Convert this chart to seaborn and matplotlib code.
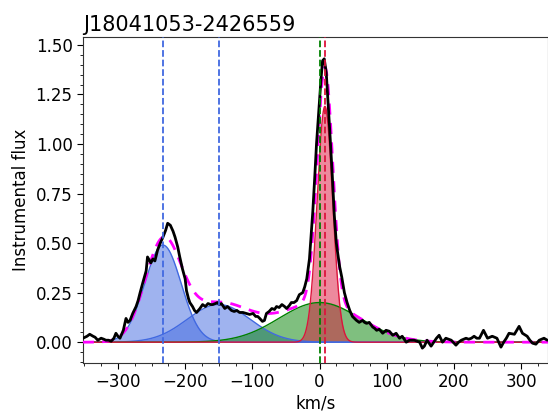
import numpy as np
import pandas as pd
import matplotlib
matplotlib.use("Agg")
import matplotlib.pyplot as plt
from matplotlib.ticker import MultipleLocator
import seaborn as sns

TITLE = "J18041053-2426559"

VELOCITY = [-352, -346, -342, -337, -334, -330, -325, -321, -318, -314, -310, -306, -303, -300,
            -297, -292, -288, -285, -282, -278, -273, -270, -267, -263, -258, -256, -251, -248,
            -245, -241, -237, -233, -229, -226, -222, -218, -215, -211, -208, -204, -200, -198,
            -195, -193, -189, -186, -183, -178, -174, -170, -166, -162, -159, -155, -152, -149,
            -146, -141, -137, -134, -131, -127, -123, -119, -114, -109, -104, -99, -95, -92,
            -89, -85, -82, -79, -75, -71, -67, -64, -60, -56, -52, -49, -45, -42, -38, -34,
            -30, -25, -22, -19, -15, -10, -7, -4.5, -2, 0, 2, 4.5, 7, 10, 12, 15, 19, 22, 25,
            27, 30, 33, 37, 41, 45, 49, 52, 55, 59, 64, 67, 70, 74, 79, 82, 85, 89, 94, 99,
            104, 109, 114, 119, 123, 129, 134, 141, 145, 149, 153, 156, 160, 166, 170, 174,
            178, 183, 188, 192, 196, 203, 207, 211, 218, 222, 226, 230, 234, 238, 244, 250,
            257, 264, 270, 274, 278, 282, 290, 297, 302, 309, 313, 317, 322, 327, 334, 339]
FLUX = [0.02, 0.03, 0.04, 0.03, 0.025, 0.01, 0.02, 0.015, 0.01, 0.01, 0.005, 0.02, 0.045, 0.03,
        0.02, 0.06, 0.12, 0.10, 0.11, 0.145, 0.18, 0.21, 0.25, 0.30, 0.36, 0.43, 0.40, 0.42,
        0.41, 0.465, 0.50, 0.53, 0.565, 0.60, 0.59, 0.56, 0.53, 0.48, 0.43, 0.37, 0.32, 0.26,
        0.22, 0.20, 0.18, 0.16, 0.15, 0.17, 0.19, 0.18, 0.195, 0.19, 0.19, 0.195, 0.20, 0.19,
        0.195, 0.17, 0.18, 0.17, 0.16, 0.155, 0.16, 0.15, 0.15, 0.145, 0.14, 0.145, 0.13, 0.13,
        0.12, 0.105, 0.11, 0.145, 0.155, 0.17, 0.165, 0.18, 0.175, 0.19, 0.18, 0.17, 0.185, 0.20, 0.20, 0.21,
        0.24, 0.25, 0.28, 0.32, 0.42, 0.66, 0.84, 1.00, 1.12, 1.22, 1.32, 1.42, 1.43, 1.36, 1.25, 1.08, 0.84, 0.64, 0.50,
        0.45, 0.38, 0.33, 0.25, 0.20, 0.16, 0.13, 0.12, 0.11, 0.10, 0.11, 0.10, 0.095, 0.10, 0.077, 0.07, 0.06, 0.065, 0.045, 0.06,
        0.055, 0.035, 0.045, 0.02, 0.03, 0.0, 0.01, 0.01, 0.005, 0.0, -0.03, -0.02, 0.01, -0.02, 0.0, 0.02,
        0.035, 0.0, 0.02, 0.015, 0.01, -0.015, 0.0, 0.01, 0.02, 0.015, 0.02, 0.03, 0.02, 0.02, 0.06, 0.02,
        0.03, 0.02, -0.025, 0.0, 0.02, 0.045, 0.04, 0.08, 0.045, 0.03, 0.01, -0.005, -0.01, 0.01, 0.02, 0.01]

# Gaussian components
COMP_AMPLITUDE = [0.49, 0.19, 0.20, 1.19]
COMP_CENTER = [-233, -150, 0, 8]
COMP_SIGMA = [27, 47, 60, 11.5]
COMP_COLOR = ["royalblue", "royalblue", "green", "crimson"]

XLIM = (-352, 340)
YLIM = (-0.105, 1.54)

sns.set_style("ticks", {"axes.edgecolor": "black", "text.color": "black",
                        "xtick.color": "black", "ytick.color": "black",
                        "axes.labelcolor": "black"})
plt.rcParams["font.family"] = ["DejaVu Sans"]

fig = plt.figure(figsize=(5.48, 4.11), dpi=100)
ax = fig.add_axes([83 / 548, 48 / 411, 1 - 83 / 548, (363 - 37) / 411])

grid = np.linspace(XLIM[0] - 10, XLIM[1] + 10, 1400)
total = np.zeros_like(grid)
for a, c, s, col in zip(COMP_AMPLITUDE, COMP_CENTER, COMP_SIGMA, COMP_COLOR):
    g = a * np.exp(-(grid - c) ** 2 / (2 * s ** 2))
    total += g
    ax.fill_between(grid, 0, g, color=col, alpha=0.5, linewidth=0)
    ax.plot(grid, g, color=col, lw=1.0)

df = pd.DataFrame({"v": VELOCITY, "f": FLUX})
sns.lineplot(data=df, x="v", y="f", ax=ax, color="black", lw=2.0, sort=False, zorder=5)
model = pd.DataFrame({"v": grid, "f": total})
sns.lineplot(data=model, x="v", y="f", ax=ax, color="magenta", lw=2.0, linestyle=(0, (4, 3)), zorder=4)

for c, col in zip(COMP_CENTER, COMP_COLOR):
    ax.axvline(c, color=col, ls="--", lw=1.3, zorder=6)

ax.set_xlim(*XLIM)
ax.set_ylim(*YLIM)
ax.xaxis.set_major_locator(MultipleLocator(100))
ax.xaxis.set_minor_locator(MultipleLocator(25))
ax.yaxis.set_major_locator(MultipleLocator(0.25))
ax.yaxis.set_minor_locator(MultipleLocator(0.05))
ax.tick_params(axis="both", which="major", labelsize=12, direction="out", length=4)
ax.tick_params(axis="both", which="minor", direction="out", length=2.5)
ax.set_xlabel("km/s", fontsize=12, labelpad=2)
ax.set_ylabel("Instrumental flux", fontsize=12)
ax.set_title(TITLE, fontsize=15, loc="left", pad=4)
for sp in ax.spines.values():
    sp.set_color("#333333")
    sp.set_linewidth(0.8)

fig.savefig("out.png", dpi=100)
